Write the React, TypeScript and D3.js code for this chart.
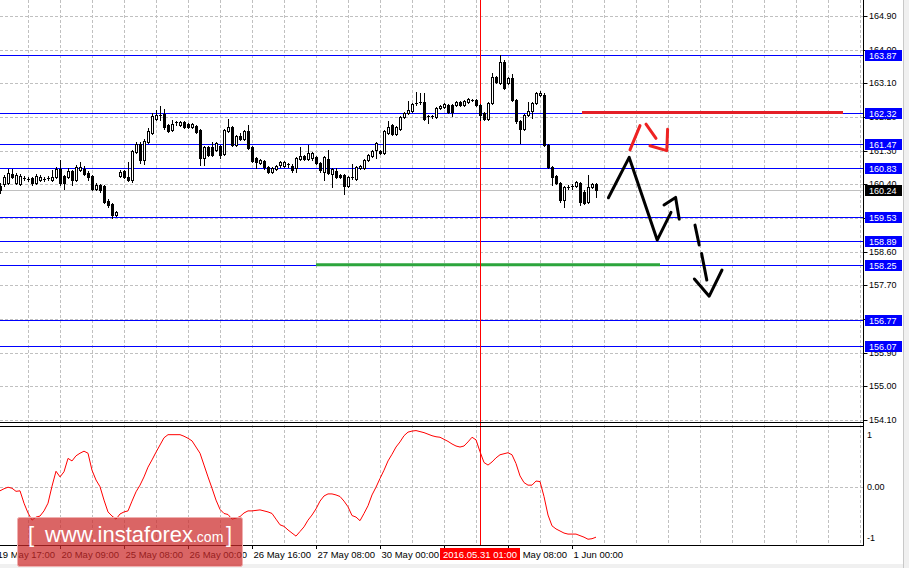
import * as d3 from "d3";
import { useEffect, useRef } from "react";

const W = 909;
const H = 568;

// H1 candles, one per bar index (4px apart)
const opens = [
  160.35, 160.41, 160.43, 160.67, 160.43, 160.41, 160.57, 160.54, 160.57, 160.43,
  160.51, 160.54, 160.56, 160.51, 160.59, 160.81, 160.62, 160.59, 160.75, 160.51,
  160.78, 160.81, 160.7, 160.62, 160.27, 160.38, 160.35, 159.95, 159.87, 159.58,
  160.62, 160.75, 160.59, 160.51, 161.26, 161.48, 161.05, 161.53, 161.77, 162.15,
  162.23, 162.28, 161.99, 161.85, 162.04, 161.99, 162.07, 162.01, 161.93, 161.96,
  161.85, 161.1, 161.4, 161.4, 161.32, 161.42, 161.21, 161.83, 161.93, 161.45,
  161.69, 161.61, 161.83, 161.4, 161.1, 160.97, 161.02, 160.86, 160.73, 160.81,
  160.92, 160.89, 160.94, 160.89, 160.84, 161.08, 161.16, 161.08, 161.1, 161.13,
  160.97, 160.73, 161.08, 160.67, 160.75, 160.65, 160.65, 160.35, 160.59, 160.54,
  160.84, 160.84, 161.05, 161.16, 161.32, 161.29, 161.24, 161.77, 161.99, 161.74,
  161.88, 162.2, 162.31, 162.36, 162.55, 162.6, 162.6, 162.23, 162.23, 162.2,
  162.44, 162.47, 162.52, 162.52, 162.52, 162.6, 162.52, 162.6, 162.65, 162.65,
  162.52, 162.31, 162.15, 162.57, 163.27, 163.11, 163.67, 163.11, 163.24, 162.65,
  162.09, 161.88, 162.25, 162.36, 162.57, 162.79, 162.79, 161.45, 160.86, 160.62,
  160.43, 159.98, 160.33, 160.33, 160.35, 160.43, 160.19, 159.93, 160.33, 160.41,
];
const highs = [
  160.43, 160.65, 160.81, 160.81, 160.7, 160.67, 160.62, 160.59, 160.59, 160.67,
  160.65, 160.59, 160.62, 160.78, 160.86, 161.05, 160.65, 160.84, 160.78, 160.92,
  161.0, 160.89, 160.75, 160.65, 160.43, 160.41, 160.38, 160.01, 159.9, 159.69,
  160.78, 160.78, 161.0, 161.32, 161.53, 161.53, 161.61, 161.91, 162.31, 162.39,
  162.49, 162.41, 162.01, 162.12, 162.09, 162.09, 162.09, 162.04, 162.04, 161.99,
  161.88, 161.42, 161.42, 161.53, 161.53, 161.45, 161.88, 162.15, 161.96, 161.72,
  161.77, 161.85, 161.99, 161.42, 161.13, 161.08, 161.05, 160.89, 160.86, 160.92,
  161.02, 161.02, 160.97, 160.94, 161.13, 161.4, 161.18, 161.45, 161.26, 161.16,
  161.0, 161.16, 161.32, 160.84, 160.84, 160.67, 160.67, 160.62, 160.94, 160.89,
  160.92, 161.08, 161.21, 161.32, 161.53, 161.32, 161.85, 162.09, 162.01, 161.96,
  162.23, 162.33, 162.63, 162.57, 162.87, 162.84, 162.84, 162.25, 162.25, 162.47,
  162.52, 162.57, 162.55, 162.55, 162.63, 162.63, 162.65, 162.71, 162.68, 162.68,
  162.55, 162.33, 162.6, 163.38, 163.3, 163.86, 163.72, 163.27, 163.35, 162.68,
  162.12, 162.28, 162.6, 162.6, 162.87, 162.89, 162.84, 161.48, 160.89, 160.65,
  160.46, 160.35, 160.38, 160.41, 160.49, 160.46, 160.25, 160.65, 160.43, 160.43,
];
const lows = [
  160.17, 160.35, 160.41, 160.57, 160.41, 160.38, 160.51, 160.49, 160.38, 160.41,
  160.49, 160.49, 160.51, 160.49, 160.57, 160.38, 160.27, 160.57, 160.38, 160.49,
  160.75, 160.65, 160.51, 160.25, 160.25, 160.19, 159.9, 159.79, 159.5, 159.55,
  160.59, 160.57, 160.49, 160.46, 161.24, 160.97, 160.94, 161.5, 161.74, 162.12,
  162.12, 161.88, 161.8, 161.83, 161.99, 161.96, 161.91, 161.91, 161.91, 161.77,
  160.92, 160.92, 161.16, 161.16, 161.29, 161.1, 161.18, 161.8, 161.42, 161.42,
  161.58, 161.58, 161.34, 161.0, 160.84, 160.94, 160.81, 160.7, 160.7, 160.78,
  160.86, 160.86, 160.86, 160.73, 160.73, 161.05, 161.05, 161.05, 161.05, 160.94,
  160.73, 160.51, 160.67, 160.33, 160.57, 160.57, 160.14, 160.33, 160.54, 160.51,
  160.81, 160.81, 161.02, 161.13, 161.1, 161.21, 161.21, 161.74, 161.72, 161.72,
  161.85, 162.17, 162.28, 162.33, 162.52, 162.55, 162.12, 162.04, 162.17, 162.17,
  162.41, 162.44, 162.31, 162.23, 162.49, 162.49, 162.49, 162.57, 162.63, 162.49,
  162.12, 162.12, 162.12, 162.55, 163.11, 163.08, 162.95, 163.08, 162.63, 162.04,
  161.5, 161.85, 162.23, 162.17, 162.55, 162.76, 161.42, 160.84, 160.38, 160.41,
  159.93, 159.79, 160.27, 160.27, 160.33, 159.85, 159.87, 159.9, 160.3, 160.06,
];
const closes = [
  160.25, 160.59, 160.7, 160.59, 160.65, 160.62, 160.56, 160.55, 160.43, 160.62,
  160.59, 160.55, 160.57, 160.59, 160.81, 160.43, 160.43, 160.75, 160.51, 160.86,
  160.86, 160.67, 160.59, 160.27, 160.38, 160.25, 159.93, 159.85, 159.58, 159.66,
  160.73, 160.59, 160.51, 161.29, 161.48, 161.05, 161.56, 161.83, 162.23, 162.25,
  162.25, 161.93, 161.83, 162.01, 162.07, 162.07, 161.93, 161.93, 162.01, 161.8,
  161.1, 161.4, 161.18, 161.18, 161.5, 161.18, 161.85, 161.93, 161.45, 161.69,
  161.61, 161.83, 161.37, 161.02, 161.0, 161.05, 160.86, 160.73, 160.84, 160.89,
  161.0, 161.0, 160.92, 160.78, 161.1, 161.16, 161.08, 161.24, 161.24, 160.97,
  160.78, 161.13, 160.7, 160.81, 160.59, 160.59, 160.35, 160.59, 160.57, 160.86,
  160.89, 161.05, 161.18, 161.29, 161.5, 161.24, 161.83, 161.93, 161.74, 161.93,
  162.2, 162.31, 162.39, 162.55, 162.57, 162.57, 162.15, 162.2, 162.2, 162.44,
  162.49, 162.55, 162.33, 162.33, 162.6, 162.52, 162.63, 162.68, 162.65, 162.52,
  162.25, 162.15, 162.57, 163.27, 163.14, 163.67, 162.98, 163.24, 162.65, 162.09,
  161.88, 162.25, 162.36, 162.57, 162.84, 162.84, 161.45, 160.86, 160.59, 160.43,
  159.98, 160.33, 160.32, 160.35, 160.46, 159.93, 159.9, 160.33, 160.41, 160.24,
];

// oscillator in the lower window
const osc = [
  -0.08, -0.04, -0.01, -0.03, -0.09, -0.08, -0.32, -0.51, -0.65, -0.59,
  -0.57, -0.47, -0.32, 0.01, 0.3, 0.19, 0.29, 0.55, 0.5, 0.6,
  0.65, 0.69, 0.65, 0.32, 0.13, 0.0, -0.26, -0.49, -0.57, -0.63,
  -0.53, -0.49, -0.47, -0.28, -0.1, 0.03, 0.19, 0.38, 0.52, 0.67,
  0.81, 0.95, 1.01, 1.01, 1.01, 1.01, 0.98, 0.94, 0.89, 0.77,
  0.65, 0.42, 0.19, -0.03, -0.26, -0.44, -0.52, -0.54, -0.63, -0.61,
  -0.58, -0.51, -0.47, -0.47, -0.46, -0.45, -0.47, -0.49, -0.52, -0.63,
  -0.74, -0.77, -0.84, -0.9, -0.96, -0.87, -0.78, -0.65, -0.55, -0.43,
  -0.28, -0.18, -0.14, -0.14, -0.16, -0.19, -0.28, -0.39, -0.56, -0.59,
  -0.66, -0.52, -0.37, -0.16, -0.01, 0.16, 0.32, 0.5, 0.63, 0.77,
  0.87, 0.99, 1.06, 1.08, 1.09, 1.07, 1.05, 1.02, 0.99, 0.97,
  0.96, 0.92, 0.88, 0.83, 0.79, 0.77, 0.79, 0.87, 0.96, 0.91,
  0.68, 0.47, 0.42, 0.48, 0.56, 0.62, 0.64, 0.66, 0.62, 0.45,
  0.21, 0.08, 0.03, 0.03, 0.11, 0.1, -0.19, -0.55, -0.76, -0.82,
  -0.86, -0.9, -0.92, -0.92, -0.92, -0.95, -0.98, -1.02, -1.01, -0.98,
];

const priceTicks = [164.9, 164.0, 163.1, 162.2, 161.3, 160.4, 159.5, 158.6, 157.7, 156.8, 155.9, 155.0, 154.1];
const levels = [163.87, 162.32, 161.47, 160.83, 159.53, 158.89, 158.25, 156.77, 156.07];
const bid = 160.24;
const oscTicks = [1, 0, -1];
const oscTickLabels = ["1", "0.00", "-1"];

const timeBars = [-1, 15, 31, 47, 63, 79, 95, 111, 127, 143];
const timeLabels = ["19 May 17:00", "20 May 09:00", "25 May 08:00", "26 May 00:00", "26 May 16:00", "27 May 08:00", "30 May 00:00", "30 May 16:00", "31 May 08:00", "1 Jun 00:00"];
const markerBar = 120;
const markerLabel = "2016.05.31 01:00";

// drawn objects: [bar, price]
const resistance = { from: 145.5, to: 210.75, price: 162.32 };
const support = { from: 79, to: 165, price: 158.25 };
const blackPaths: [number, number][][] = [
  [[152.1, 160.04], [157.3, 161.12], [164.3, 158.91], [167.75, 159.65]],
  [[166, 159.85], [168.9, 160.05], [169.8, 159.47]],
  [[173.75, 159.31], [174.8, 158.78]],
  [[175.4, 158.55], [176.7, 157.84]],
  [[173.6, 157.87], [177.3, 157.41], [180.5, 158.11]],
];
const redPaths: [number, number][][] = [
  [[157.5, 161.32], [160, 161.97]],
  [[161.5, 162.01], [164, 161.63]],
  [[162.5, 161.43], [166.7, 161.3], [166.9, 161.87]],
];

const FONT = "'Liberation Sans', Arial, sans-serif";

export default function App() {
  const svgRef = useRef<SVGSVGElement>(null);

  useEffect(() => {
    if (!svgRef.current) return;
    document.body.style.margin = "0";
    const svg = d3.select(svgRef.current);
    svg.selectAll("*").remove();

    const right = 863.5;
    const x = d3.scaleLinear().domain([0, 150]).range([0, 600]);
    const y = d3.scaleLinear().domain([154.1, 164.9]).range([420, 16]);
    const yo = d3.scaleLinear().domain([-1, 1]).range([538.2, 435.2]);
    const py = (v: number) => Math.round(y(v)) + 0.5;

    svg.append("rect").attr("width", W).attr("height", H).attr("fill", "#ffffff");

    // grid
    const grid = svg.append("g").attr("stroke", "#c0c0c0").attr("stroke-dasharray", "3,2");
    d3.range(7, 216, 8).forEach((b) => {
      grid.append("line").attr("x1", Math.round(x(b)) + 0.5).attr("x2", Math.round(x(b)) + 0.5)
        .attr("y1", 0).attr("y2", 545);
    });
    priceTicks.forEach((p) => {
      grid.append("line").attr("x1", 0).attr("x2", right).attr("y1", py(p)).attr("y2", py(p));
    });
    grid.append("line").attr("x1", 0).attr("x2", right)
      .attr("y1", Math.round(yo(0)) + 0.5).attr("y2", Math.round(yo(0)) + 0.5);

    // horizontal levels
    levels.forEach((p) => {
      svg.append("line").attr("x1", 0).attr("x2", right).attr("y1", py(p)).attr("y2", py(p))
        .attr("stroke", "#0000ff");
    });
    svg.append("line").attr("x1", 0).attr("x2", right).attr("y1", py(bid)).attr("y2", py(bid))
      .attr("stroke", "#c0c0c0");

    svg.append("line").attr("x1", x(resistance.from)).attr("x2", x(resistance.to))
      .attr("y1", y(resistance.price)).attr("y2", y(resistance.price))
      .attr("stroke", "#e41e26").attr("stroke-width", 3);
    svg.append("line").attr("x1", x(support.from)).attr("x2", x(support.to))
      .attr("y1", y(support.price)).attr("y2", y(support.price))
      .attr("stroke", "#2ca53c").attr("stroke-width", 3);

    // marker line
    svg.append("line").attr("x1", x(markerBar) + 0.5).attr("x2", x(markerBar) + 0.5)
      .attr("y1", 0).attr("y2", 545).attr("stroke", "#ff0000");

    // candles
    const candles = svg.append("g").attr("shape-rendering", "crispEdges");
    opens.forEach((o, i) => {
      const c = closes[i];
      const cx = Math.round(x(i));
      candles.append("line").attr("x1", cx + 0.5).attr("x2", cx + 0.5)
        .attr("y1", Math.round(y(highs[i]))).attr("y2", Math.round(y(lows[i])) + 1)
        .attr("stroke", "#000");
      const top = Math.round(y(Math.max(o, c)));
      const bot = Math.round(y(Math.min(o, c)));
      if (bot - top < 2) {
        candles.append("rect").attr("x", cx - 1).attr("y", top).attr("width", 3)
          .attr("height", Math.max(1, bot - top)).attr("fill", "#000");
      } else if (c > o) {
        candles.append("rect").attr("x", cx - 0.5).attr("y", top + 0.5).attr("width", 2)
          .attr("height", bot - top).attr("fill", "#fff").attr("stroke", "#000");
      } else {
        candles.append("rect").attr("x", cx - 1).attr("y", top).attr("width", 3)
          .attr("height", bot - top + 1).attr("fill", "#000");
      }
    });

    // hand drawn arrows
    const line = d3.line<[number, number]>().x((d) => x(d[0])).y((d) => y(d[1]));
    blackPaths.forEach((p) => {
      svg.append("path").attr("d", line(p)).attr("fill", "none").attr("stroke", "#000")
        .attr("stroke-width", 3).attr("stroke-linecap", "round").attr("stroke-linejoin", "round");
    });
    redPaths.forEach((p) => {
      svg.append("path").attr("d", line(p)).attr("fill", "none").attr("stroke", "#ee2222")
        .attr("stroke-width", 3).attr("stroke-linecap", "round").attr("stroke-linejoin", "round");
    });

    // oscillator
    const oscLine = d3.line<number>().x((_, i) => x(i)).y((d) => yo(d));
    svg.append("path").attr("d", oscLine(osc)).attr("fill", "none").attr("stroke", "#ff0000");

    // frames
    const frame = svg.append("g").attr("stroke", "#000").attr("shape-rendering", "crispEdges");
    frame.append("line").attr("x1", 0).attr("x2", right + 0.5).attr("y1", 422.5).attr("y2", 422.5);
    frame.append("line").attr("x1", 0).attr("x2", right + 0.5).attr("y1", 426.5).attr("y2", 426.5);
    frame.append("line").attr("x1", 0).attr("x2", right + 0.5).attr("y1", 545.5).attr("y2", 545.5);
    frame.append("line").attr("x1", right).attr("x2", right).attr("y1", 0).attr("y2", 546);

    // right price scale
    const axis = svg.append("g").style("font-family", FONT).style("font-size", "9px");
    priceTicks.forEach((p) => {
      axis.append("line").attr("x1", right).attr("x2", right + 4).attr("y1", py(p)).attr("y2", py(p))
        .attr("stroke", "#000");
      axis.append("text").attr("x", 869).attr("y", y(p)).attr("dy", "0.35em").attr("fill", "#000")
        .text(d3.format(".2f")(p));
    });
    oscTicks.forEach((v, k) => {
      axis.append("text").attr("x", 867).attr("y", yo(v)).attr("dy", "0.35em").attr("fill", "#000")
        .text(oscTickLabels[k]);
    });
    const box = (p: number, fill: string) => {
      axis.append("rect").attr("x", 865).attr("y", Math.round(y(p)) - 5).attr("width", 37)
        .attr("height", 11).attr("fill", fill);
      axis.append("text").attr("x", 869).attr("y", Math.round(y(p)) + 0.5).attr("dy", "0.35em")
        .attr("fill", "#fff").text(d3.format(".2f")(p));
    };
    levels.forEach((p) => box(p, "#0000ff"));
    box(bid, "#000000");

    // time scale
    const timeAxis = svg.append("g").style("font-family", FONT).style("font-size", "9.5px");
    timeBars.forEach((b, k) => {
      const tx = Math.round(x(b)) + 0.5;
      timeAxis.append("line").attr("x1", tx).attr("x2", tx).attr("y1", 545).attr("y2", 549).attr("stroke", "#000");
      timeAxis.append("text").attr("x", tx + 1).attr("y", 558).attr("fill", "#000").text(timeLabels[k]);
    });
    const mx = x(markerBar);
    timeAxis.append("rect").attr("x", mx - 40).attr("y", 548).attr("width", 80).attr("height", 12).attr("fill", "#ff0000");
    timeAxis.append("text").attr("x", mx).attr("y", 558).attr("text-anchor", "middle").attr("fill", "#fff").text(markerLabel);

    // window edges
    svg.append("rect").attr("x", 0).attr("y", 564).attr("width", W).attr("height", 4).attr("fill", "#f0f0f0");
    svg.append("rect").attr("x", 903).attr("y", 0).attr("width", 6).attr("height", H).attr("fill", "#f0f0f0");
    svg.append("line").attr("x1", 903.5).attr("x2", 903.5).attr("y1", 0).attr("y2", H).attr("stroke", "#c8c8c8");

    // watermark
    const wm = svg.append("g");
    wm.append("rect").attr("x", 17.5).attr("y", 517.5).attr("width", 225).attr("height", 49).attr("rx", 2)
      .attr("fill", "rgb(204,41,41)").attr("fill-opacity", 0.72).attr("stroke", "#f0b0b0");
    const t = wm.append("text").attr("y", 542).attr("fill", "#fff").style("font-family", FONT);
    t.append("tspan").attr("x", 28).style("font-size", "22px").style("font-weight", "300").text("[");
    t.append("tspan").attr("x", 45).style("font-size", "22px").text("www.instaforex");
    t.append("tspan").style("font-size", "14px").text(".com");
    t.append("tspan").attr("x", 226).style("font-size", "22px").text("]");
  }, []);

  return <svg ref={svgRef} width={W} height={H} style={{ display: "block", position: "absolute", left: 0, top: 0 }} />;
}
